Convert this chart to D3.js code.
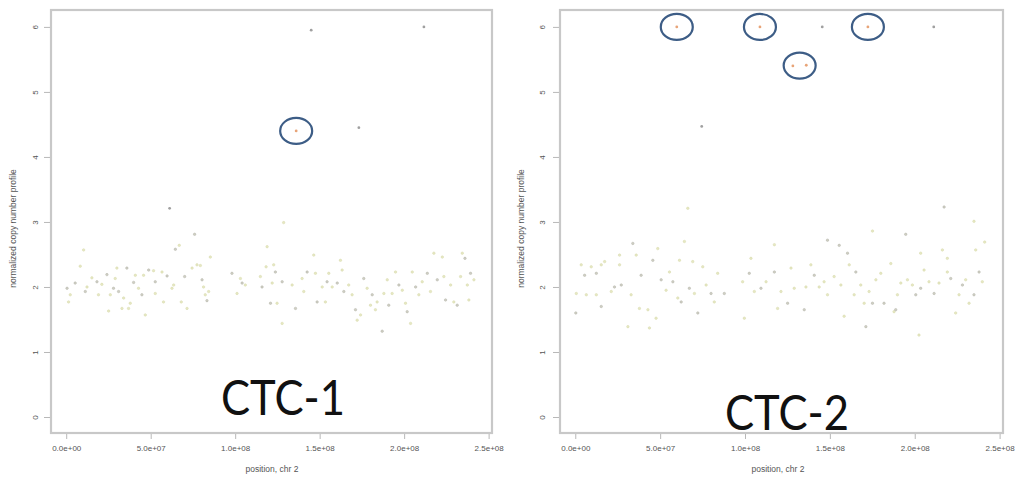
<!DOCTYPE html>
<html><head><meta charset="utf-8">
<script src="https://cdn.jsdelivr.net/npm/d3@7"></script>
<style>body{margin:0;background:#fff}svg{display:block}</style>
</head><body>
<script>
// ---- data ----
const panelNames = ["CTC-1", "CTC-2"];
const yTicks = [0, 1, 2, 3, 4, 5, 6];
const xTicks = [0, 50, 100, 150, 200, 250]; // Mb
const xTickLabels = ["0.0e+00", "5.0e+07", "1.0e+08", "1.5e+08", "2.0e+08", "2.5e+08"];
const xTitle = "position, chr 2";
const yTitle = "normalized copy number profile";

// CTC-1 bulk points (position Mb, copy number)
const ctc1Pos = [0.5,1.4,2.4,5.3,8.3,10.3,11.3,12.3,15.2,18.2,19.1,21.1,24.1,25.1,26.1,28,29,30,31,33,34,35.9,36.9,37.9,39.9,40.9,42.8,44.8,45.8,46.8,48.8,51.7,52.7,52.7,56.7,57.6,59.7,62.6,63.6,64.6,66.9,68.1,70.1,71.5,74.5,76,77.4,79.4,80.4,81.3,82.3,83.3,84.3,85.3,
 98.1,101.1,103.1,104.1,106,114.9,115.9,118.3,118.9,120.9,121.9,122.8,123.8,124.8,127.8,127.8,128.7,133.7,135.7,139.6,140.6,142.6,146.5,147.5,148.5,151.5,153.4,154.4,155.4,157.4,160.4,162.3,163.3,164.3,167.2,169.2,171.2,172.2,174.2,176.1,178.1,180.1,181.1,183,184,187,188,190,190.9,192.9,194.9,196.9,198.9,200.8,201.8,203.8,204.8,206.8,208.7,210.7,213.7,215.6,217.6,219.6,222.6,223.5,224.5,227.5,229.4,231.4,233.4,234.4,236,237.4,238.3,239.3,241.3];
const ctc1Val = [1.98,1.77,1.88,2.06,2.32,2.57,1.93,2.0,2.14,2.08,1.88,2.04,2.19,1.63,1.88,1.98,2.13,2.29,1.93,1.67,1.83,2.29,1.67,1.75,2.07,2.18,1.98,1.88,2.18,1.57,2.26,2.25,1.90,2.08,2.23,1.77,2.17,1.98,2.03,2.58,2.64,1.77,2.16,1.67,2.29,2.81,2.34,2.33,2.11,2.0,1.88,1.79,1.93,2.46,
 2.21,1.90,2.13,2.06,2.03,2.16,2.0,2.31,2.62,1.75,2.06,2.34,2.23,1.75,1.44,2.08,2.99,2.03,1.67,2.13,1.93,2.23,2.49,2.21,1.77,2.0,1.77,2.08,2.21,2.0,2.06,2.41,2.26,1.93,2.03,1.88,1.65,1.49,1.57,2.13,1.98,1.72,1.88,1.65,1.77,1.32,1.90,2.11,1.72,1.90,2.23,2.03,1.95,1.75,1.62,1.44,2.23,2.0,1.88,2.08,2.21,1.93,2.52,2.11,2.46,2.16,1.80,2.03,1.77,1.72,2.16,2.52,2.44,2.03,1.80,2.21,2.11];
// CTC-1 outliers
const ctc1OutPos = [61.2, 145, 211.7, 173.2, 136.1];
const ctc1OutVal = [3.21, 5.95, 6.0, 4.45, 4.40];
const ctc1OutHit = [false, false, false, false, true];
const ctc1CirclePos = [136.1];
const ctc1CircleVal = [4.40];

// CTC-2 bulk points
const ctc2Pos = [0.3,0.6,3.5,5.5,6.5,9.4,12.4,12.4,15.3,15.3,17.3,21.2,23.1,26.1,26.1,27.1,31,32.9,33.9,35.9,37.8,38.8,42.8,43.7,45.7,47.6,48.6,50.6,53.5,55.5,57.5,60.4,61.4,62.4,64.3,66.3,67.2,69.2,70.2,72.2,75.1,77.1,80,81.9,83.9,87.8,
 98.6,99.6,102.5,103.5,105.5,109.4,112.4,117.3,117.3,119.2,121.2,125.1,127.1,129,134.9,135.9,138.8,140.8,143.7,146.6,148.6,148.6,152.5,155.5,156.5,158.4,160.4,161.4,164.3,165.3,168.2,170.2,171.2,173.1,175.1,175.1,177.1,180,181.9,185.9,187.8,188.8,189.8,191.8,194.7,195.7,198.6,200.6,202.5,203.5,203.5,205.5,208.4,211.4,214.3,216.3,217.3,219.2,219.2,221.2,224.1,226.1,228.1,230,232,234.9,234.9,235.9,237.9,239.8,241.2];
const ctc2Val = [1.60,1.90,2.34,2.18,1.88,2.31,2.21,1.88,2.34,1.70,2.39,1.93,2.0,2.49,2.34,2.03,1.39,1.88,2.67,2.49,1.67,2.18,1.65,1.37,2.41,1.52,2.59,2.11,1.95,2.23,2.08,1.83,2.41,1.77,2.70,3.21,1.98,2.39,1.90,1.60,2.31,2.03,1.90,1.77,2.21,1.90,
 2.08,1.52,2.21,2.44,1.93,1.98,2.08,2.65,2.23,1.67,1.93,1.75,2.29,1.98,1.65,2.0,2.34,2.18,2.0,2.08,2.72,1.88,2.16,2.64,2.03,1.55,2.52,2.34,1.88,2.23,2.03,1.75,1.39,1.93,2.86,1.75,2.11,2.21,1.75,2.36,1.62,1.65,1.88,2.06,2.81,2.11,2.03,1.88,1.26,2.52,1.98,2.26,2.08,1.90,2.06,2.57,3.23,2.44,2.23,2.13,1.60,1.88,2.03,2.11,1.75,1.88,3.01,2.57,2.23,2.08,2.69];
// CTC-2 outliers
const ctc2OutPos = [74.5, 145.5, 211.2, 59.8, 108.8, 172.4, 128.2, 136.1];
const ctc2OutVal = [4.47, 6.0, 6.0, 6.0, 6.0, 6.0, 5.40, 5.41];
const ctc2OutHit = [false, false, false, true, true, true, true, true];
const ctc2CirclePos = [59.8, 108.8, 172.4, 132.2];
const ctc2CircleVal = [6.0, 6.0, 6.0, 5.405];

// ---- drawing ----
const W = 1015, H = 477;
const svg = d3.select("body").append("svg").attr("width", W).attr("height", H)
  .style("font-family", "Liberation Sans, Arial, sans-serif");

const panels = [
  {name: panelNames[0], left: 51, right: 492, pos: ctc1Pos, val: ctc1Val,
   oPos: ctc1OutPos, oVal: ctc1OutVal, oHit: ctc1OutHit, cPos: ctc1CirclePos, cVal: ctc1CircleVal,
   tickLabX: 35, yTitleX: 13, labelX: 283, labelY: 415, xTitleCx: 272},
  {name: panelNames[1], left: 560, right: 1003, pos: ctc2Pos, val: ctc2Val,
   oPos: ctc2OutPos, oVal: ctc2OutVal, oHit: ctc2OutHit, cPos: ctc2CirclePos, cVal: ctc2CircleVal,
   tickLabX: 542, yTitleX: 521, labelX: 787, labelY: 430, xTitleCx: 778}
];
const plotTop = 10, plotBottom = 433;

panels.forEach(p => {
  const x = d3.scaleLinear().domain([-9, 252]).range([p.left, p.right]);
  const y = d3.scaleLinear().domain([-0.246, 6.26]).range([plotBottom, plotTop]);
  const g = svg.append("g");

  // box
  g.append("rect").attr("x", p.left).attr("y", plotTop)
    .attr("width", p.right - p.left).attr("height", plotBottom - plotTop)
    .attr("fill", "none").attr("stroke", "#c8c8c8").attr("stroke-width", 2.2);

  // x axis
  const xa = g.append("g").attr("transform", `translate(0,${plotBottom + 1})`)
    .call(d3.axisBottom(x).tickValues(xTicks).tickSize(5).tickPadding(6)
      .tickFormat((d, i) => xTickLabels[i]));
  xa.select(".domain").remove();
  xa.selectAll("line").attr("stroke", "#b8b8b8");
  xa.selectAll("text").attr("font-size", 8).attr("fill", "#555");

  // y axis
  const ya = g.append("g").attr("transform", `translate(${p.left - 1},0)`)
    .call(d3.axisLeft(y).tickValues(yTicks).tickSize(6).tickFormat(d3.format("d")));
  ya.select(".domain").remove();
  ya.selectAll("line").attr("stroke", "#b8b8b8");
  ya.selectAll("text").attr("font-size", 8).attr("fill", "#555")
    .attr("text-anchor", "middle")
    .attr("transform", d => `translate(${p.tickLabX - (p.left - 1)},0) rotate(-90)`)
    .attr("x", 0).attr("y", 0).attr("dy", "0.35em");

  // titles
  g.append("text").attr("x", p.xTitleCx).attr("y", 472).attr("text-anchor", "middle")
    .attr("font-size", 8.5).attr("fill", "#555").text(xTitle);
  g.append("text").attr("transform", `translate(${p.yTitleX},${y(2.9)}) rotate(-90)`)
    .attr("text-anchor", "middle").attr("dy", "0.35em")
    .attr("font-size", 8.5).attr("fill", "#555").text(yTitle);

  // bulk points
  g.append("g").selectAll("circle").data(p.pos.map((d, i) => [d, p.val[i]]))
    .join("circle").attr("cx", d => x(d[0])).attr("cy", d => y(d[1])).attr("r", 1.25)
    .attr("fill", (d, i) => i % 3 === 0 ? "#cfcfc2" : "#e6e8c2")
    .attr("stroke", (d, i) => i % 3 === 0 ? "#b4b4ac" : "#d6d8ac").attr("stroke-width", 0.5);

  // outlier points
  g.append("g").selectAll("circle").data(p.oPos.map((d, i) => [d, p.oVal[i], p.oHit[i]]))
    .join("circle").attr("cx", d => x(d[0])).attr("cy", d => y(d[1])).attr("r", 1.4)
    .attr("fill", d => d[2] ? "#e8a478" : "#a0a0a0");

  // annotation ellipses
  g.append("g").selectAll("ellipse").data(p.cPos.map((d, i) => [d, p.cVal[i]]))
    .join("ellipse").attr("cx", d => x(d[0])).attr("cy", d => y(d[1]))
    .attr("rx", 16).attr("ry", 13)
    .attr("fill", "none").attr("stroke", "#3d5d86").attr("stroke-width", 2.2);

  // big label
  g.append("text").attr("x", p.labelX).attr("y", p.labelY).attr("text-anchor", "middle")
    .attr("font-family", "Lato, sans-serif").attr("font-size", 48).attr("fill", "#111")
    .attr("textLength", 124).attr("lengthAdjust", "spacingAndGlyphs")
    .text(p.name);
});
</script>
</body></html>
